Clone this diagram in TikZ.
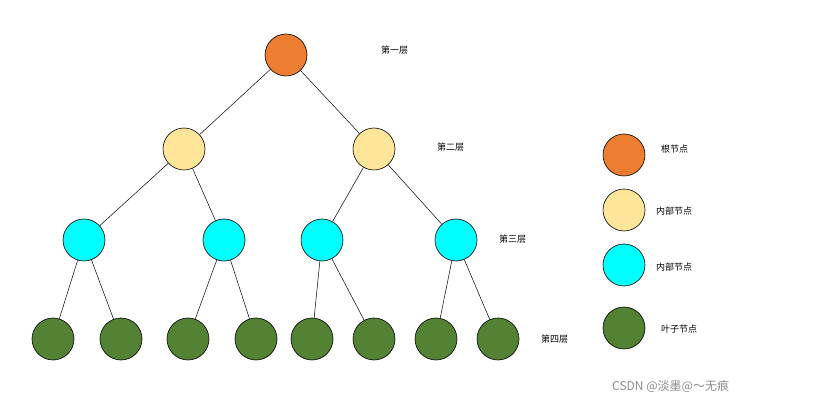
\documentclass[tikz,border=0pt]{standalone}
\usepackage{fontspec}
\setmainfont{Noto Sans CJK SC}
\begin{document}
\begin{tikzpicture}[x=1pt,y=-1pt,
 nd/.style={circle,draw=black,line width=0.6pt,minimum size=42pt,inner sep=0pt},
 rootc/.style={nd,fill=orange1},
 innc/.style={nd,fill=yellow1},
 cyc/.style={nd,fill=cyan1},
 leafc/.style={nd,fill=green1},
 lbl/.style={font=\fontsize{9}{10}\selectfont,anchor=west,inner sep=0pt},
 edge/.style={line width=0.5pt}]
\definecolor{orange1}{HTML}{ED7D31}
\definecolor{yellow1}{HTML}{FFE599}
\definecolor{cyan1}{HTML}{00FFFF}
\definecolor{green1}{HTML}{548235}
\useasboundingbox (0,0) rectangle (815,406);
\node[rootc] (r) at (286,55) {};
\node[innc] (a) at (184,149) {};
\node[innc] (b) at (374,149) {};
\node[cyc] (c1) at (84,240) {};
\node[cyc] (c2) at (224,240) {};
\node[cyc] (c3) at (322,240) {};
\node[cyc] (c4) at (456,240) {};
\foreach \n/\x in {1/53,2/121,3/188,4/256,5/312,6/374,7/436,8/498}
  \node[leafc] (l\n) at (\x,339) {};
\draw[edge] (r)--(a) (r)--(b) (a)--(c1) (a)--(c2) (b)--(c3) (b)--(c4)
 (c1)--(l1) (c1)--(l2) (c2)--(l3) (c2)--(l4) (c3)--(l5) (c3)--(l6) (c4)--(l7) (c4)--(l8);
\node[lbl] (t1) at (381,50) {第一层};
\node[lbl] (t2) at (437,147) {第二层};
\node[lbl] (t3) at (499,239) {第三层};
\node[lbl] (t4) at (541,339) {第四层};
\node[rootc] (k1) at (624,155) {};
\node[innc] (k2) at (624,210) {};
\node[cyc] (k3) at (624,265) {};
\node[leafc] (k4) at (624,328) {};
\node[lbl] (m1) at (661,149) {根节点};
\node[lbl] (m2) at (656,211) {内部节点};
\node[lbl] (m3) at (656,267) {内部节点};
\node[lbl] (m4) at (661,329) {叶子节点};
\node[font=\fontsize{12}{14}\selectfont,text=black!45,anchor=west,inner sep=0pt] (wm) at (612,386) {CSDN @淡墨@～无痕};
\end{tikzpicture}
\end{document}
